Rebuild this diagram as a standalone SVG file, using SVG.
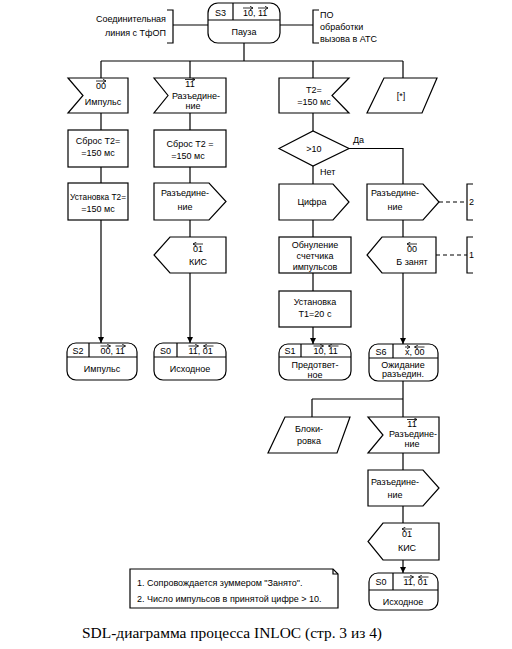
<svg xmlns="http://www.w3.org/2000/svg" width="512" height="649" viewBox="0 0 512 649">
<style>
.s{fill:#fff;stroke:#000;stroke-width:1.2}
.ln{fill:none;stroke:#000;stroke-width:1.2}
.dl{fill:none;stroke:#000;stroke-width:1.2;stroke-dasharray:4 3}
.ob{fill:none;stroke:#000;stroke-width:0.8;marker-end:url(#oa)}
.t{font-family:"Liberation Sans",Arial,sans-serif;font-size:9px;fill:#000;text-anchor:middle}
.ts{font-family:"Liberation Sans",Arial,sans-serif;font-size:9px;fill:#000;text-anchor:start}
.te{font-family:"Liberation Sans",Arial,sans-serif;font-size:9px;fill:#000;text-anchor:end}
.cap{font-family:"Liberation Serif","Times New Roman",serif;font-size:15px;fill:#000}
</style>
<defs>
<marker id="ar" markerWidth="6" markerHeight="6" refX="6" refY="3" orient="auto" markerUnits="userSpaceOnUse"><path d="M0,0 L6,3 L0,6 Z" fill="#000"/></marker>
<marker id="oa" markerWidth="4" markerHeight="4" refX="3.5" refY="2" orient="auto" markerUnits="userSpaceOnUse"><path d="M0,0 L3.5,2 L0,4" fill="none" stroke="#000" stroke-width="0.8"/></marker>
</defs>
<rect width="512" height="649" fill="#fff"/>

<g id="connectors">
<path class="ln" d="M173,25 H208 M280,25 H313"/>
<path class="ln" d="M244,43 V61 M101,61 H403 M101,61 V78 M190,61 V78 M313,61 V78 M403,61 V78"/>
<path class="ln" d="M101,113 V130 M101,167 V183"/>
<path class="ln" d="M101,220 V343" marker-end="url(#ar)"/>
<path class="ln" d="M190,113 V130 M190,167 V183 M190,220 V237"/>
<path class="ln" d="M190,273 V343" marker-end="url(#ar)"/>
<path class="ln" d="M313,113 V131 M313,166 V184 M313,220 V237 M313,273 V291"/>
<path class="ln" d="M313,327 V344" marker-end="url(#ar)"/>
<path class="ln" d="M349,148.5 H403 V184 M403,220 V237"/>
<path class="ln" d="M403,273 V344" marker-end="url(#ar)"/>
<path class="dl" d="M439,202 H467 M436,255 H467"/>
<path class="ln" d="M403,381 V417 M312,399 H403 M312,399 V417 M403,453 V470 M403,506 V523"/>
<path class="ln" d="M403,560 V573" marker-end="url(#ar)"/>
</g>

<g id="line-tfop">
<path class="ln" d="M167,10 H173 V43 H167"/>
<text class="te" x="166" y="22">Соединительная</text>
<text class="te" x="166" y="36">линия с ТфОП</text>
</g>
<g id="po-ats">
<path class="ln" d="M319,10 H313 V43 H319"/>
<text class="ts" x="320" y="18">ПО</text>
<text class="ts" x="320" y="30">обработки</text>
<text class="ts" x="320" y="42">вызова в АТС</text>
</g>

<g id="state-s3">
<rect class="s" x="208" y="3" width="72" height="40" rx="10"/>
<path class="ln" d="M208,20 H280 M233,3 V20"/>
<text class="t" x="220.5" y="16">S3</text>
<text class="ts" x="243" y="16">10, 11</text>
<path class="ob" d="M243,8 H253"/>
<path class="ob" d="M258,8 H268"/>
<text class="t" x="244" y="35">Пауза</text>
</g>

<g id="in-impuls">
<polygon class="s" points="68,78 128,78 128,113 68,113 83,95.5"/>
<text class="t" x="101" y="89">00</text>
<path class="ob" d="M96,81 H106"/>
<text class="t" x="103" y="105">Импульс</text>
</g>
<g id="task-sbros1">
<rect class="s" x="68" y="130" width="60" height="37"/>
<text class="t" x="98" y="144">Сброс T2=</text>
<text class="t" x="98" y="156">=150 мс</text>
</g>
<g id="task-ust1">
<rect class="s" x="68" y="183" width="60" height="37"/>
<text class="t" x="98" y="200" textLength="56" lengthAdjust="spacingAndGlyphs">Установка T2=</text>
<text class="t" x="98" y="212">=150 мс</text>
</g>
<g id="state-s2">
<rect class="s" x="67" y="343" width="70" height="37" rx="9"/>
<path class="ln" d="M67,357 H137 M89,343 V357"/>
<text class="t" x="78" y="354">S2</text>
<text class="ts" x="100.5" y="354">00, 11</text>
<path class="ob" d="M100.5,346 H110.5"/>
<path class="ob" d="M115.5,346 H125.5"/>
<text class="t" x="102" y="372">Импульс</text>
</g>

<g id="in-razed1">
<polygon class="s" points="154,78 226,78 226,113 154,113 168,95.5"/>
<text class="t" x="190" y="87">11</text>
<path class="ob" d="M185,79.5 H195"/>
<text class="t" x="196" y="99">Разъедине-</text>
<text class="t" x="193" y="109">ние</text>
</g>
<g id="task-sbros2">
<rect class="s" x="154" y="130" width="72" height="37"/>
<text class="t" x="190" y="147">Сброс T2 =</text>
<text class="t" x="188" y="159">=150 мс</text>
</g>
<g id="out-razed1">
<polygon class="s" points="154,183 209,183 226,201.5 209,220 154,220"/>
<text class="t" x="185" y="196">Разъедине-</text>
<text class="t" x="185" y="210">ние</text>
</g>
<g id="out-kis1">
<polygon class="s" points="170,237 226,237 226,273 170,273 154,255"/>
<text class="t" x="198" y="252">01</text>
<path class="ob" d="M203,244 H193"/>
<text class="t" x="198" y="265">КИС</text>
</g>
<g id="state-s0a">
<rect class="s" x="154" y="343" width="72" height="37" rx="9"/>
<path class="ln" d="M154,357 H226 M177,343 V357"/>
<text class="t" x="165.5" y="354">S0</text>
<text class="ts" x="188.5" y="354">11, 01</text>
<path class="ob" d="M188.5,346 H198.5"/>
<path class="ob" d="M213.5,346 H203.5"/>
<text class="t" x="190" y="372">Исходное</text>
</g>

<g id="in-t2">
<polygon class="s" points="279,78 349,78 332,95.5 349,113 279,113"/>
<text class="t" x="314" y="93">T2=</text>
<text class="t" x="314" y="105">=150 мс</text>
</g>
<g id="dec-10">
<polygon class="s" points="279,148.5 313,131 349,148.5 313,166"/>
<text class="t" x="314" y="152">&gt;10</text>
<text class="ts" x="353" y="143">Да</text>
<text class="ts" x="320" y="175">Нет</text>
</g>
<g id="out-cifra">
<polygon class="s" points="279,184 333,184 349,202 333,220 279,220"/>
<text class="t" x="312" y="205">Цифра</text>
</g>
<g id="task-obnul">
<rect class="s" x="279" y="237" width="72" height="36"/>
<text class="t" x="315" y="248">Обнуление</text>
<text class="t" x="315" y="259">счетчика</text>
<text class="t" x="315" y="270">импульсов</text>
</g>
<g id="task-ust-t1">
<rect class="s" x="279" y="291" width="72" height="36"/>
<text class="t" x="315" y="305">Установка</text>
<text class="t" x="315" y="317">T1=20 с</text>
</g>
<g id="state-s1">
<rect class="s" x="279" y="344" width="72" height="36" rx="9"/>
<path class="ln" d="M279,357 H351 M301,344 V357"/>
<text class="t" x="290" y="354">S1</text>
<text class="ts" x="313.5" y="354">10, 11</text>
<path class="ob" d="M313.5,346 H323.5"/>
<path class="ob" d="M338.5,346 H328.5"/>
<text class="t" x="315" y="368">Предответ-</text>
<text class="t" x="315" y="378">ное</text>
</g>

<g id="save-star">
<polygon class="s" points="384,78 437,78 422,113 367,113"/>
<text class="t" x="401" y="99">[*]</text>
</g>
<g id="out-razed2">
<polygon class="s" points="367,184 423,184 439,202 423,220 367,220"/>
<text class="t" x="395" y="196">Разъедине-</text>
<text class="t" x="395" y="210">ние</text>
</g>
<g id="note-2">
<path class="ln" d="M473,184 H467 V220 H473"/>
<text class="ts" x="469" y="205">2</text>
</g>
<g id="out-bzanyat">
<polygon class="s" points="382,237 436,237 436,273 382,273 367,255"/>
<text class="t" x="412" y="252">00</text>
<path class="ob" d="M417,244 H407"/>
<text class="t" x="412" y="265">Б занят</text>
</g>
<g id="note-1">
<path class="ln" d="M473,237 H467 V273 H473"/>
<text class="ts" x="469" y="258">1</text>
</g>
<g id="state-s6">
<rect class="s" x="369" y="344" width="69" height="37" rx="9"/>
<path class="ln" d="M369,358 H438 M393,344 V358"/>
<text class="t" x="381" y="355">S6</text>
<text class="ts" x="405" y="355">x, 00</text>
<path class="ob" d="M405,347 H410"/>
<path class="ob" d="M424.5,347 H414.5"/>
<text class="t" x="403" y="368">Ожидание</text>
<text class="t" x="403" y="377">разъедин.</text>
</g>

<g id="save-block">
<polygon class="s" points="285,417 350,417 337,453 268,453"/>
<text class="t" x="309" y="432">Блоки-</text>
<text class="t" x="309" y="444">ровка</text>
</g>
<g id="in-razed3">
<polygon class="s" points="368,417 439,417 439,453 368,453 383,435"/>
<text class="t" x="412" y="427">11</text>
<path class="ob" d="M407,419.5 H417"/>
<text class="t" x="413" y="437">Разъедине-</text>
<text class="t" x="412" y="447">ние</text>
</g>
<g id="out-razed3">
<polygon class="s" points="368,470 423,470 439,488 423,506 368,506"/>
<text class="t" x="395" y="485">Разъедине-</text>
<text class="t" x="395" y="498">ние</text>
</g>
<g id="out-kis2">
<polygon class="s" points="383,523 439,523 439,560 383,560 368,541.5"/>
<text class="t" x="407" y="537">01</text>
<path class="ob" d="M412,529 H402"/>
<text class="t" x="407" y="551">КИС</text>
</g>
<g id="state-s0b">
<rect class="s" x="369" y="573" width="69" height="37" rx="9"/>
<path class="ln" d="M369,590 H438 M393,573 V590"/>
<text class="t" x="381" y="585">S0</text>
<text class="ts" x="403.5" y="585">11, 01</text>
<path class="ob" d="M403.5,577 H413.5"/>
<path class="ob" d="M428.5,577 H418.5"/>
<text class="t" x="403" y="605">Исходное</text>
</g>

<g id="comment">
<path class="s" d="M130,569 H333 L338,574 V608 H130 Z"/>
<path class="ln" d="M333,569 V574 H338"/>
<text class="ts" x="137" y="586">1. Сопровождается зуммером "Занято".</text>
<text class="ts" x="137" y="602">2. Число импульсов в принятой цифре &gt; 10.</text>
</g>

<text class="cap" x="82" y="638" textLength="300" lengthAdjust="spacingAndGlyphs">SDL-диаграмма процесса INLOC (стр. 3 из 4)</text>
</svg>
